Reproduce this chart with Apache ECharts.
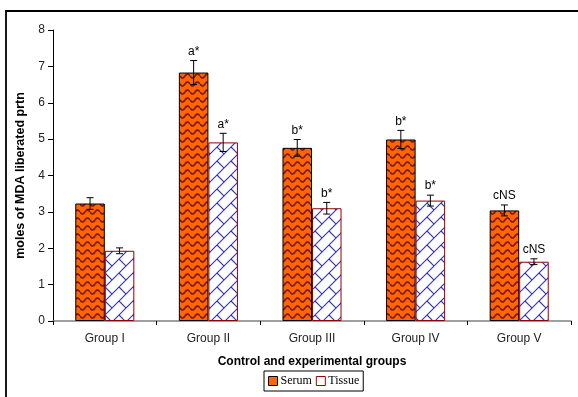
<!DOCTYPE html>
<html><head><meta charset="utf-8">
<script src="https://cdn.jsdelivr.net/npm/echarts@6/dist/echarts.min.js"></script>
<style>html,body{margin:0;padding:0;background:#fff}#c{width:578px;height:397px}</style>
</head><body><div id="c"></div>
<script>
const categories = ['Group I','Group II','Group III','Group IV','Group V'];
const serum = [3.23, 6.83, 4.76, 4.99, 3.04];
const serumErr = [0.16, 0.33, 0.23, 0.25, 0.15];
const tissue = [1.93, 4.91, 3.10, 3.31, 1.63];
const tissueErr = [0.08, 0.25, 0.16, 0.15, 0.08];
const serumLabels = ['', 'a*', 'b*', 'b*', 'cNS'];
const tissueLabels = ['', 'a*', 'b*', 'b*', 'cNS'];
const yTicks = [0, 8, 1]; // min, max, interval

function serumPattern() {
  const w = 10, h = 8;
  const cv = document.createElement('canvas'); cv.width = w; cv.height = h;
  const g = cv.getContext('2d');
  g.fillStyle = '#ff6600'; g.fillRect(0, 0, w, h);
  g.strokeStyle = '#7a1800'; g.lineWidth = 1.6;
  g.beginPath();
  for (let x = 0; x <= w; x += 0.5) {
    const y = 4 + 2 * Math.sin(x / w * 2 * Math.PI);
    if (x === 0) g.moveTo(x, y); else g.lineTo(x, y);
  }
  g.stroke();
  return cv;
}
function tissuePattern() {
  const T = 14;
  const cv = document.createElement('canvas'); cv.width = T; cv.height = T;
  const g = cv.getContext('2d');
  g.fillStyle = '#ffffff'; g.fillRect(0, 0, T, T);
  g.strokeStyle = '#3434b0'; g.lineWidth = 1.1;
  for (let ox = -T; ox <= T; ox += T) for (let oy = -T; oy <= T; oy += T) {
    g.beginPath();
    g.moveTo(ox + 0, oy + T); g.lineTo(ox + T, oy + 0);
    g.moveTo(ox + T / 2, oy + T / 2); g.lineTo(ox + T, oy + T);
    g.stroke();
  }
  return cv;
}

const GAP = 0.43;
function errSeries(idx, vals, errs, labs) {
  return {
    type: 'custom', z: 10,
    data: vals.map((v, i) => [i, v, errs[i]]),
    encode: { x: 0, y: 1 },
    renderItem: function (params, api) {
      const i = api.value(0), v = api.value(1), e = api.value(2);
      const c = api.coord([i, v]);
      const catW = api.size([1, 0])[0];
      const bw = catW * (1 - GAP) / 2;
      const x = c[0] + (idx === 0 ? -bw / 2 : bw / 2);
      const yt = api.coord([i, v + e])[1], yb = api.coord([i, v - e])[1];
      const cap = 3.5;
      const st = { stroke: '#000', lineWidth: 1 };
      const ch = [
        { type: 'line', shape: { x1: x, y1: yt, x2: x, y2: yb }, style: st },
        { type: 'line', shape: { x1: x - cap, y1: yt, x2: x + cap, y2: yt }, style: st },
        { type: 'line', shape: { x1: x - cap, y1: yb, x2: x + cap, y2: yb }, style: st }
      ];
      const lab = labs[params.dataIndex];
      if (lab) ch.push({ type: 'text', style: { text: lab, x: x, y: yt - 3, align: 'center', verticalAlign: 'bottom', fill: '#000', font: '12px "Liberation Sans", Arial, sans-serif' } });
      return { type: 'group', children: ch };
    }
  };
}

const chart = echarts.init(document.getElementById('c'), null, { renderer: 'canvas' });
chart.setOption({
  animation: false,
  textStyle: { fontFamily: '"Liberation Sans", Arial, sans-serif' },
  graphic: [{ type: 'rect', shape: { x: 6, y: 11, width: 620, height: 420 }, style: { fill: 'none', stroke: '#000', lineWidth: 1.8 }, z: 100 }],
  grid: { left: 53, right: 7, top: 30, bottom: 76 },
  legend: {
    left: 264, top: 371, padding: [4, 4], itemGap: 4, itemWidth: 9, itemHeight: 9,
    borderColor: '#000', borderWidth: 1,
    textStyle: { fontFamily: '"Liberation Serif", "Times New Roman", serif', fontSize: 12, color: '#000', padding: [0, 0, 0, -2] },
    data: [
      { name: 'Serum', icon: 'rect', itemStyle: { color: '#ff6600', borderColor: '#000', borderWidth: 1 } },
      { name: 'Tissue', icon: 'rect', itemStyle: { color: '#fff', borderColor: '#a00000', borderWidth: 1 } }
    ]
  },
  xAxis: {
    type: 'category', data: categories,
    axisLine: { lineStyle: { color: '#808080', width: 1.5 } },
    axisTick: { show: true, length: 4, lineStyle: { color: '#000' } },
    axisLabel: { color: '#222', fontSize: 12, margin: 12 },
    name: 'Control and experimental groups', nameLocation: 'middle', nameGap: 35,
    nameTextStyle: { fontWeight: 'bold', fontSize: 12, color: '#000' }
  },
  yAxis: {
    type: 'value', min: yTicks[0], max: yTicks[1], interval: yTicks[2],
    axisLine: { show: true, lineStyle: { color: '#000' } },
    axisTick: { show: true, length: 5, lineStyle: { color: '#000' } },
    splitLine: { show: false },
    axisLabel: { color: '#222', fontSize: 12, margin: 8 },
    name: 'moles of MDA liberated prtn', nameLocation: 'middle', nameGap: 26,
    nameTextStyle: { fontWeight: 'bold', fontSize: 12.5, color: '#000' }
  },
  series: [
    { name: 'Serum', type: 'bar', data: serum, barGap: '0%', barCategoryGap: (GAP * 100) + '%',
      itemStyle: { color: { image: serumPattern(), repeat: 'repeat' }, borderColor: '#000', borderWidth: 1 } },
    { name: 'Tissue', type: 'bar', data: tissue, barGap: '0%', barCategoryGap: (GAP * 100) + '%',
      itemStyle: { color: { image: tissuePattern(), repeat: 'repeat' }, borderColor: '#900000', borderWidth: 1 } },
    errSeries(0, serum, serumErr, serumLabels),
    errSeries(1, tissue, tissueErr, tissueLabels)
  ]
});
</script></body></html>
